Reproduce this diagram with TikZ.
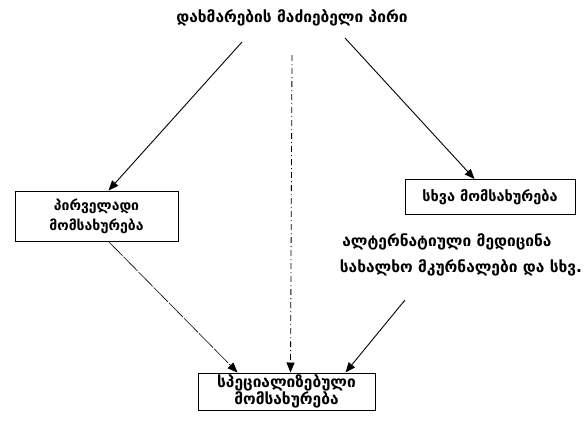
\documentclass[tikz,border=0pt]{standalone}
\usepackage{fontspec}
\setmainfont{DejaVu Sans}
\usetikzlibrary{arrows.meta,calc}
\begin{document}
\begin{tikzpicture}[x=1pt,y=-1pt,
  lbl/.style={inner sep=0pt, font=\fontsize{15.5}{18}\selectfont\bfseries, align=center},
  box/.style={draw, line width=1pt, inner sep=2pt, align=center},
  arr/.style={-{Triangle[length=10pt,width=8pt]}, line width=0.9pt},
  thinarr/.style={-{Triangle[length=10pt,width=8pt]}, line width=0.6pt, dash pattern=on 20pt off 1.5pt},
  dasharr/.style={-{Triangle[length=10pt,width=8pt]}, line width=0.8pt, dash pattern=on 6pt off 3pt on 1pt off 3pt}]
\useasboundingbox (0,0) rectangle (585,421);
\node[lbl] (top) at (292,18) {დახმარების მაძიებელი პირი};
\node[box, minimum width=163pt, minimum height=50pt, font=\fontsize{14}{20}\selectfont\bfseries] (prim) at (96.5,216) {პირველადი\\მომსახურება};
\node[box, minimum width=170pt, minimum height=35pt, font=\fontsize{14.5}{18}\selectfont\bfseries] (other) at (490,197) {სხვა მომსახურება};
\node[lbl] (alt1) at (447,242) {ალტერნატიული მედიცინა};
\node[lbl] (alt2) at (461,268) {სახალხო მკურნალები და სხვ.};
\node[box, minimum width=177pt, minimum height=37pt, font=\fontsize{15.5}{17}\selectfont\bfseries, inner sep=1pt] (spec) at (286.5,391.5) {სპეციალიზებული\\მომსახურება};
\coordinate (t1) at (242,42);
\coordinate (t2) at (345,38);
\coordinate (tv) at (292,55);
\coordinate (a2) at (405,300);
\draw[arr] (t1) -- ($(prim.north)+(12,0)$);
\draw[arr] (t2) -- ($(other.north west)+(70,0)$);
\draw[dasharr] (tv) -- ($(spec.north)+(4,0)$);
\draw[thinarr] ($(prim.south)+(12,0)$) -- ($(spec.north west)+(40,0)$);
\draw[arr] (a2) -- ($(spec.north east)+(-30,0)$);
\end{tikzpicture}
\end{document}
